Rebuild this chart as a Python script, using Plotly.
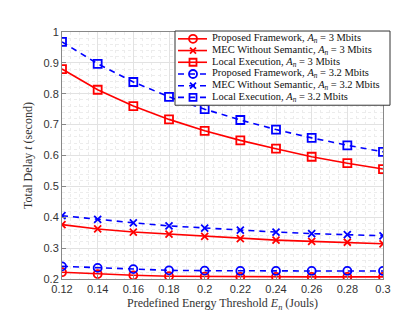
import plotly.graph_objects as go

energy = [0.12, 0.14, 0.16, 0.18, 0.20, 0.22, 0.24, 0.26, 0.28, 0.30]

proposed_3 = [0.222, 0.216, 0.212, 0.209, 0.208, 0.207, 0.207, 0.207, 0.207, 0.207]
mec_3 = [0.376, 0.362, 0.352, 0.345, 0.338, 0.331, 0.326, 0.322, 0.319, 0.314]
local_3 = [0.880, 0.813, 0.760, 0.717, 0.680, 0.649, 0.622, 0.596, 0.575, 0.556]

proposed_32 = [0.241, 0.236, 0.232, 0.228, 0.227, 0.226, 0.226, 0.226, 0.226, 0.226]
mec_32 = [0.405, 0.393, 0.382, 0.372, 0.365, 0.358, 0.352, 0.347, 0.344, 0.340]
local_32 = [0.968, 0.897, 0.838, 0.790, 0.750, 0.715, 0.684, 0.657, 0.633, 0.612]

x_ticks = [0.12, 0.14, 0.16, 0.18, 0.2, 0.22, 0.24, 0.26, 0.28, 0.3]
x_ticktext = ["0.12", "0.14", "0.16", "0.18", "0.2", "0.22", "0.24", "0.26", "0.28", "0.3"]
y_ticks = [0.2, 0.3, 0.4, 0.5, 0.6, 0.7, 0.8, 0.9, 1.0]
y_ticktext = ["0.2", "0.3", "0.4", "0.5", "0.6", "0.7", "0.8", "0.9", "1"]

RED = "#ff0000"
BLUE = "#0000ff"
serif = "Liberation Serif"

series = [
    ("Proposed Framework, <i>A</i><sub><i>n</i></sub> = 3 Mbits", proposed_3, RED, "solid", "circle"),
    ("MEC Without Semantic, <i>A</i><sub><i>n</i></sub> = 3 Mbits", mec_3, RED, "solid", "x"),
    ("Local Execution, <i>A</i><sub><i>n</i></sub> = 3 Mbits", local_3, RED, "solid", "square"),
    ("Proposed Framework, <i>A</i><sub><i>n</i></sub> = 3.2 Mbits", proposed_32, BLUE, "dash", "circle"),
    ("MEC Without Semantic, <i>A</i><sub><i>n</i></sub> = 3.2 Mbits", mec_32, BLUE, "dash", "x"),
    ("Local Execution, <i>A</i><sub><i>n</i></sub> = 3.2 Mbits", local_32, BLUE, "dash", "square"),
]
DASH = "6px,5px"
SYM = {"circle": "circle-open", "x": "x-thin-open", "square": "square-open"}

# figure geometry (pixels)
W, H = 415, 312
ML, MR, MT, MB = 54, 40, 24, 35
PW, PH = W - ML - MR, H - MT - MB


def px(x):
    return (x - ML) / PW


def py(y):
    return (H - MB - y) / PH


fig = go.Figure()
for name, ys, color, dash, sym in series:
    fig.add_trace(go.Scatter(
        x=energy, y=ys, name=name, mode="lines+markers", showlegend=False,
        line=dict(color=color, width=1.6, dash="solid" if dash == "solid" else DASH),
        marker=dict(symbol=SYM[sym], size=8 if sym != "x" else 7,
                    line=dict(color=color, width=1.8), color=color),
    ))

axis_common = dict(
    showline=True, linecolor="#888888", linewidth=1, mirror=True,
    ticks="inside", ticklen=4, tickcolor="#888888",
    showgrid=True, gridcolor="#e2e2e2", gridwidth=1,
    zeroline=False,
    tickfont=dict(family="Liberation Sans", size=11, color="#333333"),
)

fig.update_xaxes(
    range=[0.12, 0.3], tickvals=x_ticks, ticktext=x_ticktext,
    minor=dict(dtick=0.005, tick0=0.12, showgrid=True, gridcolor="#ececec", griddash="dot", ticks=""),
    title=dict(text="Predefined Energy Threshold <i>E</i><sub><i>n</i></sub> (Jouls)",
               font=dict(family=serif, size=12, color="#333333"), standoff=4),
    **axis_common,
)
fig.update_yaxes(
    range=[0.2, 1.0], tickvals=y_ticks, ticktext=y_ticktext,
    minor=dict(dtick=0.02, tick0=0.2, showgrid=True, gridcolor="#ececec", griddash="dot", ticks=""),
    title=dict(text="Total Delay <i>t</i> (second)",
               font=dict(family=serif, size=12, color="#333333"), standoff=8),
    **axis_common,
)

# compact MATLAB-style legend box
shapes = [dict(type="rect", xref="paper", yref="paper",
               x0=px(167), x1=px(382), y0=py(99), y1=py(23),
               fillcolor="white", line=dict(color="#333333", width=1), layer="above")]
annotations = []
rows = [31, 43, 55, 67, 79, 91]
for (name, ys, color, dash, sym), ry in zip(series, rows):
    yy = py(ry)
    shapes.append(dict(type="line", xref="paper", yref="paper",
                       x0=px(170), x1=px(199), y0=yy, y1=yy,
                       line=dict(color=color, width=1.6,
                                 dash="solid" if dash == "solid" else DASH)))
    common = dict(xref="paper", yref="paper", xsizemode="pixel", ysizemode="pixel",
                  xanchor=px(185), yanchor=yy, line=dict(color=color, width=1.8))
    if sym == "circle":
        shapes.append(dict(type="circle", x0=-4, x1=4, y0=-4, y1=4,
                           fillcolor="rgba(0,0,0,0)", **common))
    elif sym == "square":
        shapes.append(dict(type="rect", x0=-3.5, x1=3.5, y0=-3.5, y1=3.5,
                           fillcolor="rgba(0,0,0,0)", **common))
    else:
        shapes.append(dict(type="line", x0=-3, x1=3, y0=-3, y1=3, **common))
        shapes.append(dict(type="line", x0=-3, x1=3, y0=3, y1=-3, **common))
    annotations.append(dict(xref="paper", yref="paper", x=px(202), y=yy,
                            xanchor="left", yanchor="middle", showarrow=False,
                            text=name, font=dict(family=serif, size=10.5, color="#111111")))

fig.update_layout(
    width=W, height=H,
    margin=dict(l=ML, r=MR, t=MT, b=MB),
    paper_bgcolor="white", plot_bgcolor="white",
    showlegend=False,
    shapes=shapes, annotations=annotations,
)

fig.write_html("out.html")
